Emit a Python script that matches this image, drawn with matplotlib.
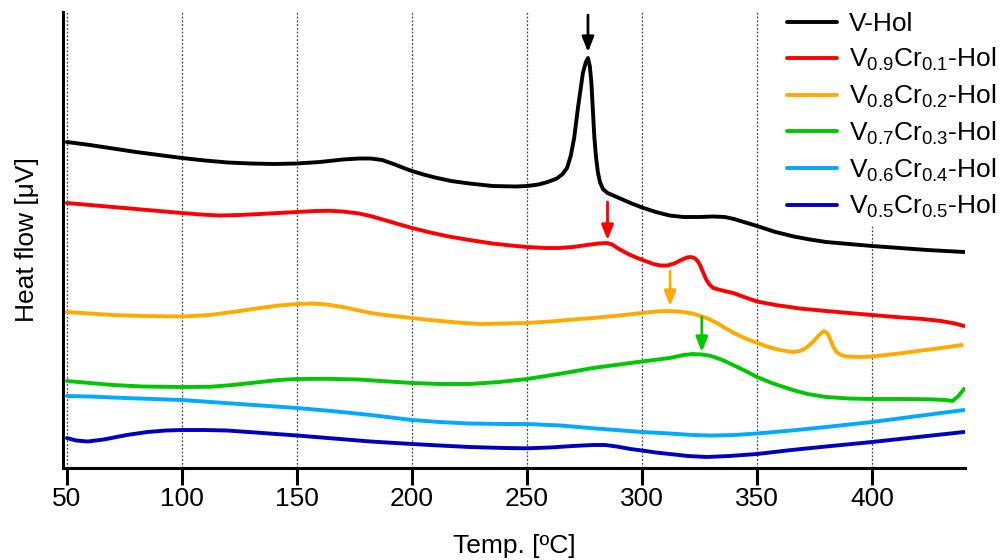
import matplotlib
matplotlib.use('Agg')
import matplotlib.pyplot as plt

plt.rcParams['font.family'] = ['Liberation Sans', 'DejaVu Sans']
plt.rcParams['mathtext.fontset'] = 'custom'
plt.rcParams['mathtext.rm'] = 'Liberation Sans'
plt.rcParams['mathtext.it'] = 'Liberation Sans:italic'
plt.rcParams['mathtext.bf'] = 'Liberation Sans:bold'

# ---------------- data (temperature in degC, heat flow in arbitrary units) -------------
labels = ['V-Hol',
          r'V$_{0.9}$Cr$_{0.1}$-Hol',
          r'V$_{0.8}$Cr$_{0.2}$-Hol',
          r'V$_{0.7}$Cr$_{0.3}$-Hol',
          r'V$_{0.6}$Cr$_{0.4}$-Hol',
          r'V$_{0.5}$Cr$_{0.5}$-Hol']
colors = ['#000000', '#ff0000', '#ffaa00', '#00c800', '#00aaff', '#0000c0']

t_black = [50, 60, 70, 80, 90, 100, 110, 120, 130, 140, 150, 160, 170, 177, 182, 187,
           192, 197, 200, 205, 210, 217, 225, 235, 245, 250, 255, 259, 263, 265.5,
           267.4, 269, 270.5, 272.2, 274.3, 275.6, 276.5, 277.3, 278, 278.7, 279.3,
           280, 280.8, 281.7, 283, 285, 290, 295, 300, 306, 312, 318, 325, 331, 336,
           340, 345, 350, 358, 366, 373, 380, 390, 400, 412, 424, 432, 440]
v_black = [32.6, 32.3, 31.95, 31.6, 31.3, 31.0, 30.75, 30.55, 30.45, 30.4, 30.45,
           30.6, 30.85, 30.95, 30.95, 30.8, 30.4, 29.95, 29.7, 29.35, 29.05, 28.7,
           28.45, 28.2, 28.15, 28.2, 28.35, 28.6, 28.95, 29.4, 30.0, 31.2, 33.0, 36.1,
           39.5, 40.6, 41.0, 40.2, 38.5, 35.5, 33.0, 31.1, 29.6, 28.6, 27.9, 27.5,
           27.0, 26.5, 26.05, 25.6, 25.25, 25.1, 25.1, 25.15, 25.1, 24.9, 24.55, 24.2,
           23.6, 23.15, 22.85, 22.6, 22.4, 22.2, 22.0, 21.8, 21.7, 21.6]

t_red = [50, 60, 70, 80, 90, 100, 108, 116.5, 125, 134, 142, 150, 158, 164, 170, 177,
         182, 188, 194, 200, 208, 216, 225, 235, 243, 250, 258, 264, 270, 276, 281,
         284.8, 287, 290, 294, 298, 302, 305, 308, 311, 314, 317, 319.5, 321, 322.8,
         324, 325.2, 326.5, 328, 329.5, 331, 334, 339.6, 345, 350, 358, 368.7, 380,
         390, 400, 413, 422, 430, 436, 440]
v_red = [26.5, 26.3, 26.1, 25.9, 25.7, 25.5, 25.35, 25.25, 25.3, 25.4, 25.5, 25.6,
         25.7, 25.72, 25.65, 25.45, 25.2, 24.8, 24.4, 24.0, 23.55, 23.15, 22.8, 22.45,
         22.25, 22.1, 22.0, 22.0, 22.1, 22.3, 22.45, 22.5, 22.35, 21.9, 21.4, 21.0,
         20.65, 20.4, 20.25, 20.25, 20.45, 20.8, 21.05, 21.1, 21.0, 20.75, 20.3, 19.6,
         18.8, 18.3, 18.0, 17.8, 17.5, 17.05, 16.65, 16.3, 15.95, 15.7, 15.5, 15.3,
         15.05, 14.9, 14.7, 14.45, 14.2]

t_orange = [50, 60, 70, 83, 100, 112, 122, 134, 142, 150, 157, 163, 170, 176, 182,
            190, 200, 210, 220, 229.6, 240, 250, 260, 270, 278.7, 290, 300, 306, 311,
            316, 322, 328, 333, 336.1, 340, 345, 350.2, 355, 360, 365.6, 368.7, 371.5,
            374.3, 377, 379.1, 380.5, 381.8, 383, 384.5, 386.5, 389, 395, 400, 410,
            420, 430, 439]
v_orange = [15.6, 15.45, 15.3, 15.2, 15.15, 15.3, 15.6, 16.0, 16.25, 16.4, 16.45,
            16.35, 16.1, 15.8, 15.5, 15.25, 15.0, 14.75, 14.55, 14.4, 14.45, 14.5,
            14.65, 14.85, 15.0, 15.25, 15.5, 15.65, 15.7, 15.65, 15.45, 15.0, 14.45,
            14.0, 13.5, 12.95, 12.5, 12.1, 11.8, 11.6, 11.7, 12.05, 12.6, 13.3, 13.7,
            13.5, 12.9, 12.2, 11.6, 11.3, 11.15, 11.1, 11.15, 11.4, 11.7, 12.0, 12.3]

t_green = [50, 60, 70, 83, 100, 112, 122, 134, 142, 150, 162.6, 177, 190, 200, 212,
           225, 238, 250, 265, 278.7, 290, 300, 312, 318, 322, 326, 330, 335, 339.6,
           345, 350, 357, 365.6, 372, 380, 390, 400, 412, 424, 432, 435, 437.5, 440]
v_green = [8.7, 8.5, 8.3, 8.15, 8.1, 8.12, 8.3, 8.6, 8.8, 8.9, 8.92, 8.85, 8.65, 8.5,
           8.4, 8.4, 8.6, 8.9, 9.45, 10.0, 10.35, 10.65, 11.0, 11.3, 11.4, 11.35, 11.2,
           10.8, 10.3, 9.7, 9.1, 8.45, 7.8, 7.4, 7.1, 6.95, 6.9, 6.9, 6.88, 6.8, 6.7,
           7.2, 7.9]

t_lblue = [50, 60, 75, 100, 125, 150, 165, 182, 200, 212, 225, 240, 250, 264.5, 280,
           300, 312, 322, 330, 340, 350, 365, 380, 400, 420, 440]
v_lblue = [7.2, 7.15, 7.0, 6.8, 6.4, 6.0, 5.7, 5.3, 4.8, 4.6, 4.45, 4.4, 4.4, 4.25,
           3.95, 3.6, 3.45, 3.3, 3.25, 3.3, 3.45, 3.75, 4.1, 4.6, 5.2, 5.8]

t_dblue = [50, 54, 59, 66, 76, 85, 93, 100, 110, 119.6, 135, 150, 166, 182, 200, 212,
           225, 240, 250, 260, 270, 278.7, 284, 289, 295, 300, 306, 312, 320, 328, 338,
           350, 365, 380, 400, 420, 440]
v_dblue = [3.0, 2.75, 2.65, 2.85, 3.3, 3.6, 3.75, 3.8, 3.8, 3.75, 3.5, 3.25, 2.95,
           2.65, 2.4, 2.25, 2.1, 2.0, 1.97, 2.05, 2.2, 2.3, 2.3, 2.15, 1.9, 1.75, 1.55,
           1.4, 1.2, 1.1, 1.2, 1.4, 1.8, 2.15, 2.6, 3.1, 3.6]

series_t = [t_black, t_red, t_orange, t_green, t_lblue, t_dblue]
series_v = [v_black, v_red, v_orange, v_green, v_lblue, v_dblue]

# transition markers (arrows): temperature, start and end heat-flow level
arrow_t = [276.5, 285.0, 312.2, 326.0]
arrow_top = [45.3, 26.6, 19.7, 15.1]
arrow_bot = [41.6, 22.8, 16.2, 11.6]
arrow_colors = ['#000000', '#ff0000', '#ffaa00', '#00c800']

xticks = [50, 100, 150, 200, 250, 300, 350, 400]

# ---------------- figure -------------
fig = plt.figure(figsize=(10.02, 5.6), dpi=100)
ax = fig.add_axes([63 / 1002, 92 / 560, 902 / 1002, 456 / 560])

for t, v, c, lab in zip(series_t, series_v, colors, labels):
    ax.plot(t, v, color=c, lw=2.8, label=lab, solid_joinstyle='round',
            solid_capstyle='round', zorder=3)

for t, y0, y1, c in zip(arrow_t, arrow_top, arrow_bot, arrow_colors):
    ax.annotate('', xy=(t, y1), xytext=(t, y0),
                arrowprops=dict(arrowstyle='-|>,head_length=0.45,head_width=0.18',
                                color=c, lw=2.0, shrinkA=0, shrinkB=0,
                                mutation_scale=20), zorder=4)

ax.set_xlim(48.3, 440.4)
ax.set_ylim(0, 45.6)
ax.set_xticks(xticks)
ax.set_yticks([])
ax.grid(axis='x', color='#444444', linestyle=(0, (1.5, 1.5)), lw=0.9, zorder=0)

for s in ['top', 'right']:
    ax.spines[s].set_visible(False)
for s in ['left', 'bottom']:
    ax.spines[s].set_linewidth(2.2)
    ax.spines[s].set_color('black')

ax.tick_params(axis='x', direction='out', length=12, width=2.2, labelsize=19, pad=2)
ax.set_xlabel('Temp. [ºC]', fontsize=19, labelpad=16)
ax.set_ylabel('Heat flow [μV]', fontsize=19, labelpad=17)

leg = ax.legend(loc='upper left', bbox_to_anchor=(782 / 1002, 1 - 7 / 560),
                bbox_transform=fig.transFigure, frameon=True, framealpha=1,
                facecolor='white', edgecolor='none', fancybox=False,
                fontsize=19, handlelength=1.9, handletextpad=0.45,
                labelspacing=0.365, borderpad=0.2, borderaxespad=0)
for line in leg.get_lines():
    line.set_linewidth(2.8)
leg.set_zorder(5)

fig.savefig('out.png', dpi=100)
